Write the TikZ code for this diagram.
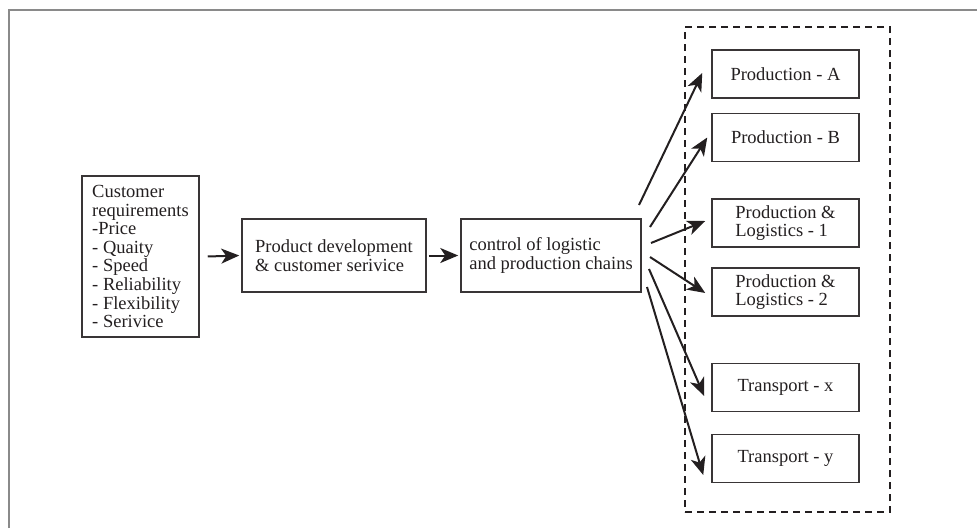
\documentclass[tikz,border=0pt]{standalone}
\usepackage{fontspec}
\setmainfont{Liberation Serif}
\usetikzlibrary{arrows.meta}
\definecolor{ink}{HTML}{231F20}
\definecolor{framegray}{HTML}{8A8A8A}
\tikzset{
  box/.style={draw=ink!90, line width=1.5pt, inner sep=0pt, text=ink,
    font=\fontsize{18.5}{18.6}\selectfont, align=left},
  arr/.style={draw=ink, line width=2pt,
    -{Stealth[length=18pt,width=15pt,inset=5pt]}},
  grpbox/.style={draw=ink, line width=2pt, dash pattern=on 7pt off 5pt,
    inner sep=0pt}
}
\begin{document}
\begin{tikzpicture}[x=1pt,y=-1pt]
\useasboundingbox (0,0) rectangle (977,528);
% outer frame
\draw[framegray, line width=2pt] (9,528) -- (9,10) -- (977,10);
% group
\node[grpbox, minimum width=205pt, minimum height=485pt] (grp) at (787.5,269.5) {};
% main boxes
\node[box, minimum width=117pt, minimum height=161pt] (cust) at (140.5,256.5)
  {Customer\\requirements\\-Price\\- Quaity\\- Speed\\- Reliability\\- Flexibility\\- Serivice};
\node[box, minimum width=184pt, minimum height=73pt] (prod) at (334,255.5)
  {Product development\\\& customer serivice};
\node[box, minimum width=180pt, minimum height=73pt] (ctrl) at (551,255.5)
  {control of logistic\\and production chains};
% targets
\node[box, minimum width=147pt, minimum height=48pt] (pa) at (785.5,74) {Production - A};
\node[box, minimum width=147pt, minimum height=48pt] (pb) at (785.5,137.5) {Production - B};
\node[box, minimum width=147pt, minimum height=48pt] (pl1) at (785.5,223) {Production \&\\Logistics - 1};
\node[box, minimum width=147pt, minimum height=48pt] (pl2) at (785.5,292) {Production \&\\Logistics - 2};
\node[box, minimum width=147pt, minimum height=48pt] (tx) at (785.5,387.5) {Transport - x};
\node[box, minimum width=147pt, minimum height=48pt] (ty) at (785.5,458.5) {Transport - y};
% connectors
\draw[arr] ([xshift=8pt]cust.east) -- ([xshift=-2pt]prod.west);
\draw[arr] ([xshift=2pt]prod.east) -- ([xshift=-2pt]ctrl.west);
\coordinate (s1) at (639,205);
\coordinate (s2) at (650,227);
\coordinate (s3) at (651,243);
\coordinate (s4) at (650,257);
\coordinate (s5) at (649,269);
\coordinate (s6) at (647,287);
\draw[arr] (s1) -- ([xshift=-9pt,yshift=1pt]pa.west);
\draw[arr] (s2) -- ([xshift=-4pt,yshift=0pt]pb.west);
\draw[arr] (s3) -- ([xshift=-6pt,yshift=2pt]pl1.west);
\draw[arr] (s4) -- ([xshift=-6pt,yshift=-1pt]pl2.west);
\draw[arr] (s5) -- ([xshift=-7pt,yshift=-8.5pt]tx.west);
\draw[arr] (s6) -- ([xshift=-8pt,yshift=-16.5pt]ty.west);
\end{tikzpicture}
\end{document}
